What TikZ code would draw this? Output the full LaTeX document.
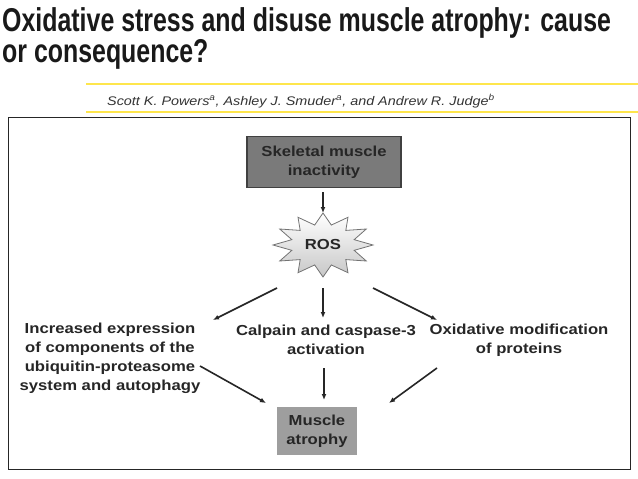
\documentclass[tikz,border=0pt]{standalone}
\usepackage{fontspec}
\setmainfont{Liberation Sans}
\newfontfamily\titlefont[FakeStretch=0.755]{Liberation Sans}
\newfontfamily\widefont[FakeStretch=1.15]{Liberation Sans}
\newfontfamily\authfont[FakeStretch=1.15]{Liberation Sans}
\usetikzlibrary{shapes.geometric,arrows.meta}
\begin{document}
\begin{tikzpicture}[x=1pt,y=-1pt,
  lbl/.style={font=\widefont\bfseries\fontsize{14.5}{19}\selectfont, text=black!85, align=center, inner sep=0},
  arr/.style={-{Latex[length=6pt,width=5pt]}, line width=1.6pt, black!85},
  boxa/.style={draw=black!75, line width=1.2pt, fill=black!52, minimum width=154pt, minimum height=51pt, lbl},
  boxb/.style={fill=black!38, minimum width=80pt, minimum height=48pt, lbl}]
\useasboundingbox (0,0) rectangle (638,479);
\node[anchor=north west, inner sep=0, font=\titlefont\bfseries\fontsize{33}{29}\selectfont, align=left, text=black!90] (title) at (2,7) {Oxidative stress and disuse muscle atrophy: cause\\or consequence?};
\draw[yellow!80!orange!70, line width=1.3pt] (86,84) -- (638,84);
\draw[yellow!80!orange!70, line width=1.3pt] (86,112) -- (638,112);
\node[anchor=west, inner sep=0, font=\authfont\itshape\fontsize{12.5}{14}\selectfont, text=black!80] (auth) at (107,101) {Scott K. Powers\textsuperscript{a}, Ashley J. Smuder\textsuperscript{a}, and Andrew R. Judge\textsuperscript{b}};
\draw[line width=1pt, black!85] (8,117) rectangle (630,469);
\node[boxa] (top) at (324,162) {Skeletal muscle\\inactivity};
\node[star, star points=12, star point ratio=1.55, minimum width=100pt, minimum height=64pt, inner sep=0, yscale=0.64, draw=black!55, line width=0.8pt, top color=white, bottom color=black!22] (ros) at (323,245) {};
\node[lbl] (rost) at (ros.center) {ROS};
\node[lbl] (l) at (110,358) {Increased expression\\of components of the\\ubiquitin-proteasome\\system and autophagy};
\node[lbl] (m) at (326,340) {Calpain and caspase-3\\activation};
\node[lbl] (r) at (519,340) {Oxidative modification\\of proteins};
\node[boxb] (bot) at (317,431) {Muscle\\atrophy};
\coordinate (a1) at (323,192); \coordinate (a2) at (323,213);
\draw[arr] (a1) -- (a2);
\coordinate (b1) at (277,288); \coordinate (b2) at (213,320);
\coordinate (c1) at (323,288); \coordinate (c2) at (323,318);
\coordinate (d1) at (373,288); \coordinate (d2) at (437,320);
\draw[arr] (b1) -- (b2); \draw[arr] (c1) -- (c2); \draw[arr] (d1) -- (d2);
\coordinate (e1) at (200,366); \coordinate (e2) at (266,403);
\coordinate (f1) at (324,368); \coordinate (f2) at (324,400);
\coordinate (g1) at (437,368); \coordinate (g2) at (389,403);
\draw[arr] (e1) -- (e2); \draw[arr] (f1) -- (f2); \draw[arr] (g1) -- (g2);
\end{tikzpicture}
\end{document}
